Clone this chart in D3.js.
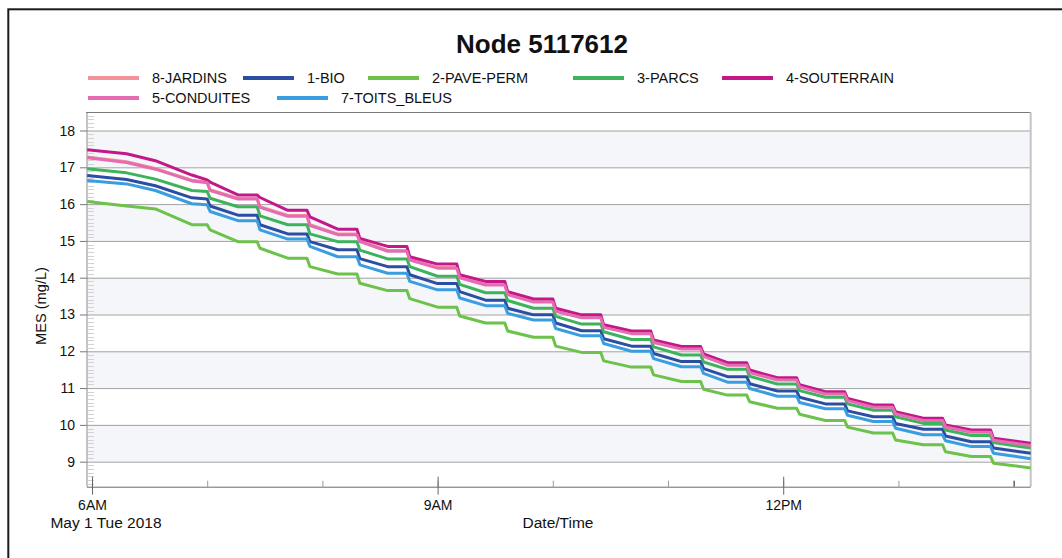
<!DOCTYPE html>
<html>
<head>
<meta charset="utf-8">
<script src="https://cdn.jsdelivr.net/npm/d3@7"></script>
<style>
  html, body { margin: 0; padding: 0; background: #fff; }
  svg text { font-family: "Liberation Sans", Arial, sans-serif; fill: #111; }
</style>
</head>
<body>
<svg id="chart" width="1062" height="558"></svg>
<script>
// ---- Chart data -----------------------------------------------------------
const chartTitle = "Node 5117612";
const yTitle = "MES (mg/L)";
const xTitle = "Date/Time";
const dateCaption = "May 1 Tue 2018";

// Reporting instants, in minutes after 6:00 AM on May 1 2018
const minutes = [
  -2.5, 18, 33, 52, 60, 61.5,
  76, 86, 87.5,
  102, 112, 113.5,
  128, 138, 139.5,
  154, 164, 165.5,
  180, 190, 191.5,
  205, 215, 216.5,
  230, 240, 241.5,
  255, 265, 266.5,
  281, 291, 292.5,
  307, 317, 318.5,
  331, 341, 342.5,
  357, 367, 368.5,
  382, 392, 393.5,
  407, 417, 418.5,
  433, 443, 444.5,
  458, 468, 469.5,
  489
];

const jardins = [
  17.28, 17.15, 16.97, 16.65, 16.60, 16.39,
  16.16, 16.16, 15.93,
  15.69, 15.69, 15.44,
  15.19, 15.19, 15.00,
  14.74, 14.74, 14.50,
  14.28, 14.28, 14.02,
  13.82, 13.82, 13.56,
  13.36, 13.36, 13.11,
  12.93, 12.93, 12.67,
  12.50, 12.50, 12.26,
  12.08, 12.08, 11.88,
  11.64, 11.64, 11.44,
  11.24, 11.24, 11.05,
  10.86, 10.86, 10.68,
  10.50, 10.50, 10.32,
  10.14, 10.14, 9.96,
  9.82, 9.82, 9.60,
  9.46
];

const bio = [
  16.78, 16.67, 16.50, 16.17, 16.14, 15.95,
  15.70, 15.70, 15.44,
  15.19, 15.19, 14.98,
  14.76, 14.76, 14.52,
  14.30, 14.30, 14.08,
  13.84, 13.84, 13.62,
  13.39, 13.39, 13.17,
  12.99, 12.99, 12.77,
  12.56, 12.56, 12.34,
  12.14, 12.14, 11.94,
  11.72, 11.72, 11.53,
  11.31, 11.31, 11.12,
  10.92, 10.92, 10.75,
  10.57, 10.57, 10.38,
  10.22, 10.22, 10.04,
  9.88, 9.88, 9.70,
  9.54, 9.54, 9.37,
  9.23
];

const pavePerm = [
  16.07, 15.95, 15.87, 15.44, 15.44, 15.30,
  14.98, 14.98, 14.80,
  14.53, 14.53, 14.30,
  14.10, 14.10, 13.85,
  13.65, 13.65, 13.43,
  13.20, 13.20, 12.96,
  12.77, 12.77, 12.55,
  12.38, 12.38, 12.14,
  11.97, 11.97, 11.74,
  11.57, 11.57, 11.36,
  11.18, 11.18, 10.97,
  10.81, 10.81, 10.63,
  10.45, 10.45, 10.29,
  10.12, 10.12, 9.94,
  9.78, 9.78, 9.59,
  9.46, 9.46, 9.27,
  9.14, 9.14, 8.96,
  8.83
];

const parcs = [
  16.96, 16.85, 16.68, 16.37, 16.34, 16.16,
  15.93, 15.93, 15.68,
  15.44, 15.44, 15.19,
  14.98, 14.98, 14.75,
  14.51, 14.51, 14.30,
  14.04, 14.04, 13.82,
  13.59, 13.59, 13.38,
  13.17, 13.17, 12.95,
  12.74, 12.74, 12.53,
  12.32, 12.32, 12.12,
  11.90, 11.90, 11.71,
  11.51, 11.51, 11.32,
  11.11, 11.11, 10.93,
  10.75, 10.75, 10.57,
  10.40, 10.40, 10.22,
  10.04, 10.04, 9.86,
  9.71, 9.71, 9.52,
  9.37
];

const souterrain = [
  17.48, 17.37, 17.18, 16.79, 16.66, 16.60,
  16.25, 16.25, 16.18,
  15.83, 15.83, 15.65,
  15.32, 15.32, 15.07,
  14.85, 14.85, 14.57,
  14.37, 14.37, 14.08,
  13.90, 13.90, 13.62,
  13.42, 13.42, 13.17,
  12.99, 12.99, 12.72,
  12.55, 12.55, 12.31,
  12.13, 12.13, 11.93,
  11.69, 11.69, 11.49,
  11.28, 11.28, 11.09,
  10.90, 10.90, 10.72,
  10.54, 10.54, 10.36,
  10.18, 10.18, 10.00,
  9.86, 9.86, 9.64,
  9.50
];

const conduites = [
  17.26, 17.13, 16.95, 16.63, 16.58, 16.37,
  16.14, 16.14, 15.91,
  15.67, 15.67, 15.42,
  15.17, 15.17, 14.98,
  14.72, 14.72, 14.48,
  14.26, 14.26, 14.00,
  13.80, 13.80, 13.54,
  13.34, 13.34, 13.09,
  12.91, 12.91, 12.65,
  12.48, 12.48, 12.24,
  12.06, 12.06, 11.86,
  11.62, 11.62, 11.42,
  11.22, 11.22, 11.03,
  10.84, 10.84, 10.66,
  10.48, 10.48, 10.30,
  10.12, 10.12, 9.94,
  9.80, 9.80, 9.58,
  9.44
];

const toitsBleus = [
  16.64, 16.55, 16.37, 16.01, 15.98, 15.80,
  15.55, 15.55, 15.30,
  15.05, 15.05, 14.85,
  14.57, 14.57, 14.35,
  14.12, 14.12, 13.90,
  13.67, 13.67, 13.45,
  13.24, 13.24, 13.03,
  12.85, 12.85, 12.62,
  12.42, 12.42, 12.21,
  12.00, 12.00, 11.80,
  11.58, 11.58, 11.40,
  11.16, 11.16, 10.99,
  10.78, 10.78, 10.61,
  10.44, 10.44, 10.26,
  10.09, 10.09, 9.91,
  9.73, 9.73, 9.57,
  9.41, 9.41, 9.23,
  9.08
];

const seriesNames = ["8-JARDINS", "1-BIO", "2-PAVE-PERM", "3-PARCS", "4-SOUTERRAIN", "5-CONDUITES", "7-TOITS_BLEUS"];
const seriesValues = [jardins, bio, pavePerm, parcs, souterrain, conduites, toitsBleus];
const seriesColors = ["#f3929a", "#2b4ea3", "#6cc24a", "#3db35c", "#c4188a", "#e46db2", "#3a9de0"];

const yTickValues = [9, 10, 11, 12, 13, 14, 15, 16, 17, 18];

// ---- Layout ---------------------------------------------------------------
const W = 1062, H = 558;
const plot = { left: 87, right: 1030.7, top: 112.5, bottom: 486.7 };
const t0 = new Date(2018, 4, 1, 6, 0, 0);
const atMinute = m => new Date(t0.getTime() + m * 60000);

const svg = d3.select("#chart");

// outer frame
svg.append("rect")
  .attr("x", 8.3).attr("y", 9.3)
  .attr("width", W + 40).attr("height", H + 40)
  .attr("fill", "none").attr("stroke", "#1a1a1a").attr("stroke-width", 2);

const x = d3.scaleTime()
  .domain([atMinute(-2.6), atMinute(488.9)])
  .range([plot.left, plot.right]);

const y = d3.scaleLinear()
  .domain([8.32, 18.49])
  .range([plot.bottom, plot.top]);

// title
svg.append("text")
  .attr("x", 542).attr("y", 53)
  .attr("text-anchor", "middle")
  .attr("font-size", 26).attr("font-weight", "bold")
  .text(chartTitle);

// alternating horizontal bands
const bandG = svg.append("g");
yTickValues.filter(v => v % 2 === 1).forEach(v => {
  bandG.append("rect")
    .attr("x", plot.left).attr("width", plot.right - plot.left)
    .attr("y", y(v + 1)).attr("height", y(v) - y(v + 1))
    .attr("fill", "#f5f6f9");
});

// minor y ticks every 0.1
const minorY = d3.range(84, 185).map(v => v / 10).filter(v => Math.abs(v - Math.round(v)) > 1e-6);
svg.append("g").selectAll("line").data(minorY).join("line")
  .attr("x1", plot.left + 1).attr("x2", plot.left + 7)
  .attr("y1", d => Math.round(y(d)) + 0.5).attr("y2", d => Math.round(y(d)) + 0.5)
  .attr("stroke", "#d2d2d2").attr("stroke-width", 1);

// y axis with gridlines
const yAxis = svg.append("g")
  .attr("transform", `translate(${plot.left},0)`)
  .call(d3.axisLeft(y).tickValues(yTickValues).tickSize(7).tickPadding(5).tickFormat(d3.format("d")));
yAxis.select(".domain").remove();
yAxis.selectAll(".tick line").attr("stroke", "#777");
yAxis.selectAll(".tick text").attr("font-size", 14).attr("fill", "#111")
  .attr("font-family", "\"Liberation Sans\", Arial, sans-serif");
yAxis.selectAll(".tick").append("line")
  .attr("x1", 0).attr("x2", plot.right - plot.left)
  .attr("stroke", "#a2a2a2").attr("stroke-width", 1);

// plot frame
svg.append("line").attr("x1", plot.left - 1).attr("x2", plot.right)
  .attr("y1", plot.top).attr("y2", plot.top).attr("stroke", "#7a7a7a");
svg.append("line").attr("x1", plot.right).attr("x2", plot.right)
  .attr("y1", plot.top).attr("y2", plot.bottom).attr("stroke", "#c4c4c4").attr("stroke-width", 2);
svg.append("line").attr("x1", plot.left).attr("x2", plot.left)
  .attr("y1", plot.top).attr("y2", plot.bottom).attr("stroke", "#8a8a8a");

// minor x ticks (hourly)
const hourly = svg.append("g")
  .attr("transform", `translate(0,${plot.bottom})`)
  .call(d3.axisBottom(x).ticks(d3.timeHour.every(1)).tickSize(-6).tickFormat(""));
hourly.select(".domain").remove();
hourly.selectAll(".tick line").attr("stroke", (d, i, n) => i === n.length - 1 ? "#111" : "#9a9a9a");

// major x ticks (every 3 hours)
const xAxis = svg.append("g")
  .attr("transform", `translate(0,${plot.bottom})`)
  .call(d3.axisBottom(x).ticks(d3.timeHour.every(3)).tickSize(8).tickPadding(5)
    .tickFormat(d3.timeFormat("%-I%p")));
xAxis.select(".domain").attr("stroke", "#6a6a6a").attr("d", `M${plot.left},0.5H${plot.right}`);
xAxis.selectAll(".tick line").attr("y1", -10).attr("stroke", "#666");
xAxis.selectAll(".tick text").attr("font-size", 14).attr("fill", "#111")
  .attr("font-family", "\"Liberation Sans\", Arial, sans-serif");

// axis captions
svg.append("text").attr("x", 106).attr("y", 528)
  .attr("text-anchor", "middle").attr("font-size", 15.5).text(dateCaption);
svg.append("text").attr("x", 558).attr("y", 528)
  .attr("text-anchor", "middle").attr("font-size", 15.5).text(xTitle);
svg.append("text")
  .attr("transform", `translate(46,306) rotate(-90)`)
  .attr("text-anchor", "middle").attr("font-size", 14.6).text(yTitle);

// series lines
const line = d3.line()
  .x((d, i) => x(atMinute(minutes[i])))
  .y(d => y(d));

svg.append("clipPath").attr("id", "plot-clip")
  .append("rect").attr("x", plot.left).attr("y", plot.top)
  .attr("width", plot.right - plot.left).attr("height", plot.bottom - plot.top);

const linesG = svg.append("g").attr("clip-path", "url(#plot-clip)");
seriesValues.forEach((vals, k) => {
  linesG.append("path")
    .attr("d", line(vals))
    .attr("fill", "none")
    .attr("stroke", seriesColors[k])
    .attr("stroke-width", 3)
    .attr("stroke-linejoin", "round");
});

// legend
const legendSlots = [
  [88, 78], [243, 78], [368, 78], [573, 78], [722, 78],
  [88, 98], [277, 98]
];
const legend = svg.append("g");
seriesNames.forEach((name, k) => {
  const [lx, ly] = legendSlots[k];
  legend.append("line")
    .attr("x1", lx).attr("x2", lx + 51)
    .attr("y1", ly).attr("y2", ly)
    .attr("stroke", seriesColors[k]).attr("stroke-width", 4);
  legend.append("text")
    .attr("x", lx + 64).attr("y", ly + 5)
    .attr("font-size", 14.5)
    .text(name);
});
</script>
</body>
</html>
